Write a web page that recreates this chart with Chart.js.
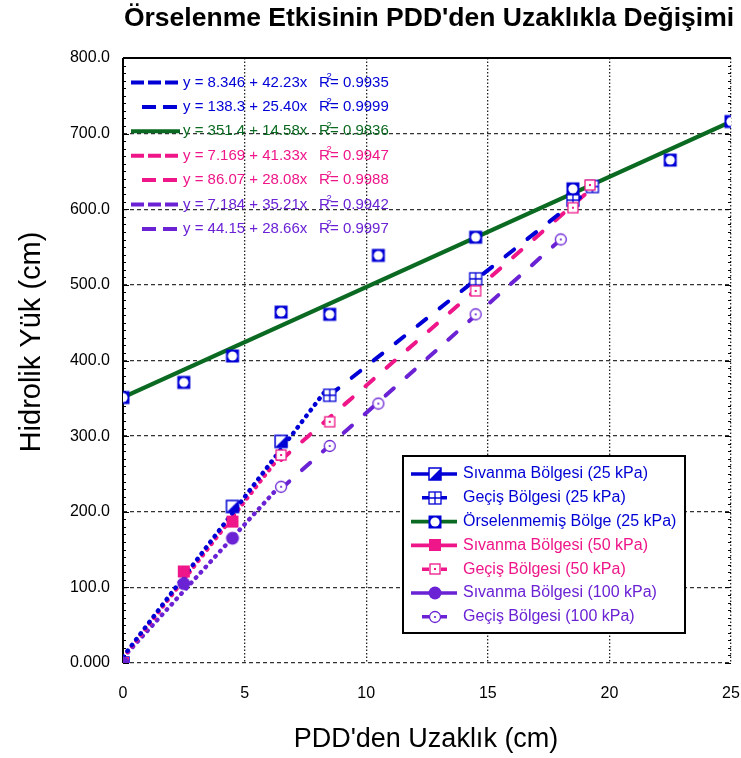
<!DOCTYPE html>
<html>
<head>
<meta charset="utf-8">
<script src="https://cdn.jsdelivr.net/npm/chart.js@4.4.1/dist/chart.umd.min.js"></script>
<style>
  html, body { margin: 0; padding: 0; background: #fff; }
  canvas { display: block; }
</style>
</head>
<body>
<canvas id="c" width="741" height="758"></canvas>
<script>
const FONT = "'Liberation Sans', Arial, sans-serif";
const BLUE = '#0000d6';
const GREEN = '#0b6a21';
const PINK = '#ee1689';
const PURPLE = '#6a22d4';

// Measured points: distance from PDD (cm) and hydraulic head (cm)
const sivanma25X = [0, 4.5, 6.5];
const sivanma25Y = [0, 207, 293];
const gecis25X = [8.5, 14.5, 18.5, 19.3];
const gecis25Y = [354, 508, 612, 630];
const orselenmemisX = [0, 2.5, 4.5, 6.5, 8.5, 10.5, 14.5, 18.5, 22.5, 25];
const orselenmemisY = [351, 371, 406, 464, 461, 539, 563, 627, 665, 716];
const sivanma50X = [0, 2.5, 4.5];
const sivanma50Y = [0, 121, 187];
const gecis50X = [6.5, 8.5, 14.5, 18.5, 19.2];
const gecis50Y = [275, 319, 492, 602, 632];
const sivanma100X = [0, 2.5, 4.5];
const sivanma100Y = [0, 105, 165];
const gecis100X = [6.5, 8.5, 10.5, 14.5, 18];
const gecis100Y = [233, 287, 343, 461, 560];

const seriesNames = [
  'Sıvanma Bölgesi (25 kPa)',
  'Geçiş Bölgesi (25 kPa)',
  'Örselenmemiş Bölge (25 kPa)',
  'Sıvanma Bölgesi (50 kPa)',
  'Geçiş Bölgesi (50 kPa)',
  'Sıvanma Bölgesi (100 kPa)',
  'Geçiş Bölgesi (100 kPa)'
];

// Linear fits y = a + b·x for each series, with the x-range they span
const fitIntercepts = [8.346, 138.3, 351.4, 7.169, 86.07, 7.184, 44.15];
const fitSlopes = [42.23, 25.40, 14.58, 41.33, 28.08, 35.21, 28.66];
const fitR2 = [0.9935, 0.9999, 0.9836, 0.9947, 0.9988, 0.9942, 0.9997];
const fitStartX = [0, 8.5, 0, 0, 6.5, 0, 6.5];
const fitEndX = [8.3, 19.3, 25, 6.5, 19.2, 6.5, 18];

const xTickValues = [0, 5, 10, 15, 20, 25];
const yTickLabels = ['0.000', '100.0', '200.0', '300.0', '400.0', '500.0', '600.0', '700.0', '800.0'];

// ---- styling per series ----
const markerColors = [BLUE, BLUE, BLUE, PINK, PINK, PURPLE, PURPLE];
const lineColors = [BLUE, BLUE, GREEN, PINK, PINK, PURPLE, PURPLE];
const textColors = [BLUE, BLUE, BLUE, PINK, PINK, PURPLE, PURPLE];
const eqColors = [BLUE, BLUE, GREEN, PINK, PINK, PURPLE, PURPLE];
const lineKinds = ['dot', 'dash', 'solid', 'dot', 'dash', 'dot', 'dash'];
const markerKinds = ['halfSquare', 'gridSquare', 'ringSquare', 'square', 'dotSquare', 'circle', 'dotCircle'];

function makeMarker(kind, color) {
  const s = 18, m = s / 2;
  const c = document.createElement('canvas');
  c.width = s; c.height = s;
  const g = c.getContext('2d');
  g.strokeStyle = color; g.fillStyle = color;
  if (kind === 'halfSquare') {
    const h = 6;
    g.fillStyle = '#fff'; g.fillRect(m - h, m - h, 2 * h, 2 * h);
    g.fillStyle = color;
    g.beginPath(); g.moveTo(m + h, m - h); g.lineTo(m + h, m + h); g.lineTo(m - h, m + h); g.closePath(); g.fill();
    g.lineWidth = 1.5; g.strokeRect(m - h, m - h, 2 * h, 2 * h);
  } else if (kind === 'gridSquare') {
    const h = 6;
    g.fillStyle = '#fff'; g.fillRect(m - h, m - h, 2 * h, 2 * h);
    g.lineWidth = 1.3; g.strokeRect(m - h, m - h, 2 * h, 2 * h);
    g.beginPath(); g.moveTo(m, m - h); g.lineTo(m, m + h); g.moveTo(m - h, m); g.lineTo(m + h, m); g.stroke();
  } else if (kind === 'ringSquare') {
    const h = 6.5;
    g.fillRect(m - h, m - h, 2 * h, 2 * h);
    g.fillStyle = '#fff'; g.beginPath(); g.arc(m, m, 4.6, 0, Math.PI * 2); g.fill();
  } else if (kind === 'square') {
    const h = 6;
    g.fillRect(m - h, m - h, 2 * h, 2 * h);
  } else if (kind === 'dotSquare') {
    const h = 5;
    g.fillStyle = '#fff'; g.fillRect(m - h, m - h, 2 * h, 2 * h);
    g.lineWidth = 1.3; g.strokeRect(m - h, m - h, 2 * h, 2 * h);
    g.fillStyle = color; g.fillRect(m - 1, m - 1, 2, 2);
  } else if (kind === 'circle') {
    g.beginPath(); g.arc(m, m, 6.5, 0, Math.PI * 2); g.fill();
  } else if (kind === 'dotCircle') {
    g.fillStyle = '#fff'; g.beginPath(); g.arc(m, m, 5.5, 0, Math.PI * 2); g.fill();
    g.lineWidth = 1.3; g.stroke();
    g.fillStyle = color; g.beginPath(); g.arc(m, m, 1.1, 0, Math.PI * 2); g.fill();
  }
  return c;
}

const markers = markerKinds.map((k, i) => makeMarker(k, markerColors[i]));

const pointSets = [
  [sivanma25X, sivanma25Y], [gecis25X, gecis25Y], [orselenmemisX, orselenmemisY],
  [sivanma50X, sivanma50Y], [gecis50X, gecis50Y], [sivanma100X, sivanma100Y], [gecis100X, gecis100Y]
];

function dashFor(kind) {
  if (kind === 'dot') return [0.6, 6.6];
  if (kind === 'dash') return [11, 17];
  return [];
}

// Markers listed first so they are painted above the fit lines;
// later series sit on top of earlier ones.
const drawOrder = [5, 6, 3, 4, 2, 1, 0];
const datasets = [];
drawOrder.forEach(i => {
  const [xs, ys] = pointSets[i];
  datasets.push({
    label: seriesNames[i],
    data: xs.map((x, k) => ({ x: x, y: ys[k] })),
    showLine: false,
    pointStyle: markers[i],
    pointRadius: 6,
    pointHoverRadius: 6
  });
});
[2, 0, 1, 3, 4, 5, 6].forEach(i => {
  const a = fitIntercepts[i], b = fitSlopes[i];
  datasets.push({
    label: seriesNames[i] + ' fit',
    data: [fitStartX[i], fitEndX[i]].map(x => ({ x: x, y: a + b * x })),
    showLine: true,
    pointRadius: 0,
    borderColor: lineColors[i],
    borderWidth: lineKinds[i] === 'dot' ? 4.4 : (lineKinds[i] === 'solid' ? 4.3 : 4),
    borderDash: dashFor(lineKinds[i]),
    borderCapStyle: 'round',
    fill: false
  });
});

const decorPlugin = {
  id: 'decor',
  beforeDatasetsDraw(chart) {
    const { ctx, chartArea: ca, scales: { y } } = chart;
    ctx.save();
    ctx.strokeStyle = '#000';
    // top frame
    ctx.lineWidth = 2;
    ctx.beginPath(); ctx.moveTo(ca.left, ca.top); ctx.lineTo(ca.right, ca.top); ctx.stroke();
    // left axis
    ctx.beginPath(); ctx.moveTo(ca.left, ca.top); ctx.lineTo(ca.left, ca.bottom); ctx.stroke();
    // minor ticks on left and right edges
    ctx.lineWidth = 1;
    for (let v = 0; v <= 800; v += 10) {
      const py = Math.round(y.getPixelForValue(v)) + 0.5;
      const len = v % 100 === 0 ? 6 : 3;
      ctx.beginPath(); ctx.moveTo(ca.left, py); ctx.lineTo(ca.left + len, py); ctx.stroke();
      ctx.beginPath(); ctx.moveTo(ca.right, py); ctx.lineTo(ca.right - len, py); ctx.stroke();
    }
    ctx.restore();
  },
  afterDraw(chart) {
    const { ctx } = chart;
    ctx.save();
    // title
    ctx.fillStyle = '#000';
    ctx.textAlign = 'center'; ctx.textBaseline = 'middle';
    ctx.font = 'bold 26.5px ' + FONT;
    ctx.fillText("Örselenme Etkisinin PDD'den Uzaklıkla Değişimi", 429, 19);
    // axis titles
    ctx.font = '27px ' + FONT;
    ctx.fillText("PDD'den Uzaklık (cm)", 426, 740);
    ctx.save();
    ctx.translate(32, 342); ctx.rotate(-Math.PI / 2);
    ctx.font = '29px ' + FONT;
    ctx.fillText('Hidrolik Yük (cm)', 0, 0);
    ctx.restore();

    // regression equations
    ctx.textAlign = 'left'; ctx.textBaseline = 'middle';
    for (let i = 0; i < 7; i++) {
      const yy = 82.5 + i * 24.4;
      ctx.strokeStyle = lineColors[i];
      ctx.lineWidth = 4;
      ctx.lineCap = 'butt';
      if (lineKinds[i] === 'dot') {
        ctx.setLineDash([13, 4]);
        ctx.beginPath(); ctx.moveTo(131, yy); ctx.lineTo(180, yy); ctx.stroke();
      } else if (lineKinds[i] === 'dash') {
        ctx.setLineDash([14, 7]);
        ctx.beginPath(); ctx.moveTo(142, yy); ctx.lineTo(177, yy); ctx.stroke();
      } else {
        ctx.setLineDash([]);
        ctx.beginPath(); ctx.moveTo(131, yy); ctx.lineTo(180, yy); ctx.stroke();
      }
      ctx.setLineDash([]);
      ctx.fillStyle = eqColors[i];
      ctx.font = '15px ' + FONT;
      const eq = 'y = ' + fitIntercepts[i].toPrecision(4) + ' + ' + fitSlopes[i].toPrecision(4) + 'x';
      ctx.fillText(eq, 183, yy);
      ctx.fillText('R', 319, yy);
      ctx.fillText('= ' + fitR2[i].toFixed(4), 330, yy);
      ctx.font = '9.5px ' + FONT;
      ctx.fillText('2', 326.5, yy - 6);
    }

    // series legend
    const bx = 403, by = 456, bw = 282, bh = 177;
    ctx.fillStyle = '#fff';
    ctx.fillRect(bx, by, bw, bh);
    ctx.strokeStyle = '#000'; ctx.lineWidth = 2;
    ctx.strokeRect(bx, by, bw, bh);
    ctx.font = '16px ' + FONT;
    for (let i = 0; i < 7; i++) {
      const yy = 474 + i * 23.8;
      const cx = 435;
      const short = lineKinds[i] === 'dash';
      const x0 = short ? 422 : 411, x1 = short ? 447 : 457;
      ctx.strokeStyle = lineColors[i]; ctx.lineWidth = 3.6; ctx.lineCap = 'butt';
      ctx.beginPath(); ctx.moveTo(x0, yy); ctx.lineTo(cx - 6, yy);
      ctx.moveTo(cx + 6, yy); ctx.lineTo(x1, yy); ctx.stroke();
      ctx.drawImage(markers[i], cx - 9, Math.round(yy) - 9);
      ctx.fillStyle = textColors[i];
      ctx.fillText(seriesNames[i], 463, yy);
    }
    ctx.restore();
  }
};

new Chart(document.getElementById('c'), {
  type: 'scatter',
  data: { datasets: datasets },
  options: {
    responsive: false,
    animation: false,
    events: [],
    layout: { padding: { top: 58, right: 10, left: 0, bottom: 0 } },
    plugins: { legend: { display: false }, tooltip: { enabled: false }, title: { display: false } },
    scales: {
      x: {
        type: 'linear', min: 0, max: 25,
        afterBuildTicks: s => { s.ticks = xTickValues.map(v => ({ value: v })); },
        ticks: { color: '#000', font: { family: FONT, size: 16 }, padding: 21, maxRotation: 0 },
        grid: { color: '#222', lineWidth: 1.3, drawTicks: false },
        border: { display: false, dash: [1.5, 2] },
        afterFit: s => { s.height = 95; s.paddingLeft = 0; s.paddingRight = 0; }
      },
      y: {
        type: 'linear', min: 0, max: 800,
        ticks: {
          stepSize: 100, color: '#000', font: { family: FONT, size: 16 }, padding: 13,
          callback: v => yTickLabels[Math.round(v / 100)]
        },
        grid: { color: '#333', lineWidth: 1.3, drawTicks: false },
        border: { display: false, dash: [4, 3] },
        afterFit: s => { s.width = 123; s.paddingTop = 0; s.paddingBottom = 0; }
      }
    }
  },
  plugins: [decorPlugin]
});
</script>
</body>
</html>
